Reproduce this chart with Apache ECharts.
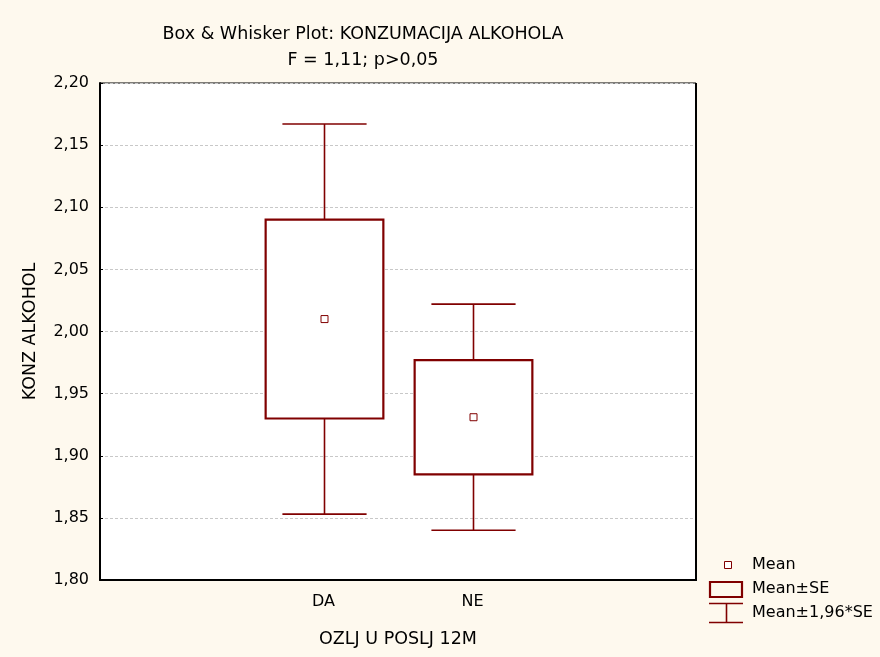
<!DOCTYPE html>
<html>
<head>
<meta charset="utf-8">
<script src="https://cdn.jsdelivr.net/npm/echarts@6/dist/echarts.min.js"></script>
<style>
  html, body { margin: 0; padding: 0; background: #FEF9EE; }
  #chart { width: 880px; height: 657px; }
</style>
</head>
<body>
<div id="chart"></div>
<script>
// Group labels on the x axis (blank slots pad each side)
const categories = ['', 'DA', 'NE', ''];
// Group statistics: mean, mean±SE, mean±1,96*SE
const groups = ['DA', 'NE'];
const means = [2.010, 1.931];
const seLow = [1.930, 1.885];
const seHigh = [2.090, 1.977];
const ciLow = [1.853, 1.840];
const ciHigh = [2.167, 2.022];

const yMin = 1.80, yMax = 2.20, yStep = 0.05;
const DARK_RED = '#800000';
const FONT = '"DejaVu Sans", Arial, sans-serif';
const FS = 16;      // tick labels and legend
const FS_NAME = 17.5; // title and axis names

const boxData = groups.map((g, i) => [categories.indexOf(g), ciLow[i], seLow[i], means[i], seHigh[i], ciHigh[i]]);

function renderBox(params, api) {
  const x = api.value(0);
  const bandW = api.size([1, 0])[0];
  const boxW = bandW * 0.79;
  const capW = bandW * 0.565;
  const pLo = api.coord([x, api.value(1)]);
  const pBoxLo = api.coord([x, api.value(2)]);
  const pMean = api.coord([x, api.value(3)]);
  const pBoxHi = api.coord([x, api.value(4)]);
  const pHi = api.coord([x, api.value(5)]);
  const cx = Math.round(pMean[0]) + 0.5;
  const lineStyle = { stroke: DARK_RED, lineWidth: 1.6, fill: null };
  return {
    type: 'group',
    children: [
      { type: 'line', shape: { x1: cx, y1: pHi[1], x2: cx, y2: pBoxHi[1] }, style: lineStyle },
      { type: 'line', shape: { x1: cx, y1: pBoxLo[1], x2: cx, y2: pLo[1] }, style: lineStyle },
      { type: 'line', shape: { x1: cx - capW / 2, y1: pHi[1], x2: cx + capW / 2, y2: pHi[1] }, style: lineStyle },
      { type: 'line', shape: { x1: cx - capW / 2, y1: pLo[1], x2: cx + capW / 2, y2: pLo[1] }, style: lineStyle },
      { type: 'rect', shape: { x: cx - boxW / 2, y: pBoxHi[1], width: boxW, height: pBoxLo[1] - pBoxHi[1] },
        style: { stroke: DARK_RED, lineWidth: 2.2, fill: '#ffffff' } },
      { type: 'rect', shape: { x: cx - 3.5, y: pMean[1] - 3.5, width: 7, height: 7 },
        style: { stroke: DARK_RED, lineWidth: 1, fill: '#ffffff' } }
    ]
  };
}

const chart = echarts.init(document.getElementById('chart'), null, { renderer: 'canvas' });
const textStyle = { fontFamily: FONT, fontSize: FS, color: '#000' };
const nameStyle = { fontFamily: FONT, fontSize: FS_NAME, color: '#000' };

function legendText(text, cy) {
  return { type: 'text', x: 752, y: cy,
           style: { text: text, font: FS + 'px ' + FONT, fill: '#000', verticalAlign: 'middle', textVerticalAlign: 'middle' } };
}

chart.setOption({
  backgroundColor: '#FEF9EE',
  animation: false,
  title: [
    { text: 'Box & Whisker Plot: KONZUMACIJA ALKOHOLA', left: 358, top: 20, textAlign: 'center',
      textStyle: Object.assign({ fontWeight: 'normal' }, nameStyle) },
    { text: 'F = 1,11; p>0,05', left: 358, top: 46, textAlign: 'center',
      textStyle: Object.assign({ fontWeight: 'normal' }, nameStyle) }
  ],
  grid: { left: 100, top: 83, width: 596, height: 497, show: true, backgroundColor: '#ffffff',
          borderColor: '#000', borderWidth: 1 },
  xAxis: {
    type: 'category',
    data: categories,
    boundaryGap: true,
    name: 'OZLJ U POSLJ 12M',
    nameLocation: 'middle',
    nameGap: 50,
    nameTextStyle: nameStyle,
    axisLine: { lineStyle: { color: '#000', width: 2 } },
    axisTick: { inside: true, alignWithLabel: true, interval: 0, length: 4, lineStyle: { color: '#000' } },
    axisLabel: Object.assign({ interval: 0, margin: 14 }, textStyle),
    splitLine: { show: false }
  },
  yAxis: {
    type: 'value',
    min: yMin, max: yMax, interval: yStep,
    name: 'KONZ ALKOHOL',
    nameLocation: 'middle',
    nameGap: 61,
    nameRotate: 90,
    nameTextStyle: nameStyle,
    axisLine: { show: true, lineStyle: { color: '#000', width: 2 } },
    axisTick: { show: true, inside: true, length: 3, lineStyle: { color: '#000' } },
    axisLabel: Object.assign({ margin: 11, formatter: v => v.toFixed(2).replace('.', ',') }, textStyle),
    splitLine: { show: true, lineStyle: { color: '#c8c8c8', type: [3, 2], width: 1 } }
  },
  series: [{
    type: 'custom',
    renderItem: renderBox,
    data: boxData,
    encode: { x: 0, y: [1, 2, 3, 4, 5] },
    z: 5
  }],
  graphic: [
    // Right frame edge
    { type: 'line', shape: { x1: 696, y1: 83, x2: 696, y2: 581 }, style: { stroke: '#000', lineWidth: 2 }, z: 10 },
    // Legend
    { type: 'rect', shape: { x: 724.5, y: 561.5, width: 7, height: 7 }, style: { stroke: DARK_RED, lineWidth: 1, fill: '#fff' } },
    legendText('Mean', 565),
    { type: 'rect', shape: { x: 710, y: 582, width: 32, height: 15 }, style: { stroke: DARK_RED, lineWidth: 2.2, fill: 'transparent' } },
    legendText('Mean±SE', 589),
    { type: 'line', shape: { x1: 709, y1: 603.5, x2: 743, y2: 603.5 }, style: { stroke: DARK_RED, lineWidth: 1.6 } },
    { type: 'line', shape: { x1: 709, y1: 622.5, x2: 743, y2: 622.5 }, style: { stroke: DARK_RED, lineWidth: 1.6 } },
    { type: 'line', shape: { x1: 726.5, y1: 603.5, x2: 726.5, y2: 622.5 }, style: { stroke: DARK_RED, lineWidth: 1.6 } },
    legendText('Mean±1,96*SE', 613)
  ]
});
</script>
</body>
</html>
